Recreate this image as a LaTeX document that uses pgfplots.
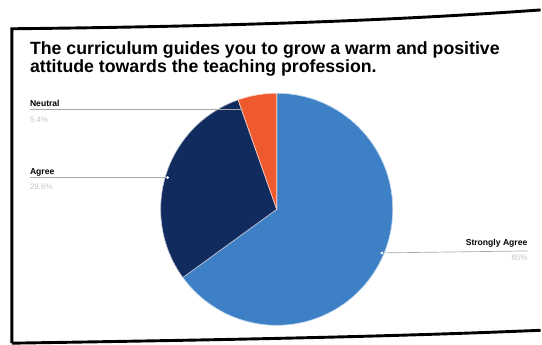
\documentclass[border=0pt]{standalone}
\usepackage{pgfplots}
\pgfplotsset{compat=1.18}
\usepackage{fontspec}
\setmainfont{Liberation Sans}

\definecolor{strongly}{HTML}{3D80C6}
\definecolor{agreec}{HTML}{122B5E}
\definecolor{neutralc}{HTML}{EE5A2E}
\definecolor{leader}{HTML}{A8A8A8}
\definecolor{pct}{HTML}{C4C4C4}

% one wedge: start percent, percent, colour (pie centre 279,211, radius 117 px)
\newcommand\pieslice[3]{%
  \pgfmathsetmacro\aS{90-3.6*#1}%
  \pgfmathsetmacro\aE{90-3.6*(#1+#2)}%
  \pgfmathsetmacro\pX{279+117*cos(\aS)}%
  \pgfmathsetmacro\pY{211-117*sin(\aS)}%
  \edef\temp{\noexpand\fill[#3, draw=white!70!#3, line width=0.5pt]
    (axis cs:279,211) -- (axis cs:\pX,\pY)
    arc[start angle=\aS, end angle=\aE, radius=87.75pt] -- cycle;}%
  \temp}

\begin{document}
\begin{tikzpicture}
\begin{axis}[
  x=0.75pt, y=0.75pt, y dir=reverse,
  xmin=0, xmax=542, ymin=0, ymax=344,
  hide axis, clip=false,
]
% bounding area
\path (axis cs:0,0) rectangle (axis cs:542,344);

% photographed frame
\draw[black, line width=2.2pt]
  (axis cs:12,346) -- (axis cs:12,29) .. controls (axis cs:200,27) and (axis cs:380,22) .. (axis cs:545,10);
\draw[black, line width=2.2pt]
  (axis cs:12,346) .. controls (axis cs:200,343) and (axis cs:380,340) .. (axis cs:545,333);

% title
\node[anchor=base west, inner sep=0pt, font=\bfseries\fontsize{13.4pt}{14pt}\selectfont]
  at (axis cs:30,55) {The curriculum guides you to grow a warm and positive};
\node[anchor=base west, inner sep=0pt, font=\bfseries\fontsize{13.4pt}{14pt}\selectfont]
  at (axis cs:30,73) {attitude towards the teaching profession.};

% pie: Strongly Agree 65.0, Agree 29.6, Neutral 5.4 (percent)
\pieslice{0}{65.0}{strongly}
\pieslice{65.0}{29.6}{agreec}
\pieslice{94.6}{5.4}{neutralc}

% leader lines
\draw[leader, line width=0.5pt] (axis cs:30,110) -- (axis cs:245,110);
\draw[leader, line width=0.5pt] (axis cs:30,179) -- (axis cs:169,179);
\draw[leader, line width=0.5pt] (axis cs:385,255) -- (axis cs:532,253);
\fill[white] (axis cs:169,179) circle (1.1pt);
\fill[white] (axis cs:385,255) circle (1.1pt);

% labels
\node[anchor=base west, inner sep=0pt, font=\bfseries\fontsize{6.5pt}{7pt}\selectfont] at (axis cs:30,107) {Neutral};
\node[anchor=base west, inner sep=0pt, font=\fontsize{6pt}{7pt}\selectfont, text=pct] at (axis cs:30,123) {5.4\%};
\node[anchor=base west, inner sep=0pt, font=\bfseries\fontsize{6.5pt}{7pt}\selectfont] at (axis cs:30,176) {Agree};
\node[anchor=base west, inner sep=0pt, font=\fontsize{6pt}{7pt}\selectfont, text=pct] at (axis cs:30,191) {29.6\%};
\node[anchor=base east, inner sep=0pt, font=\bfseries\fontsize{6.5pt}{7pt}\selectfont] at (axis cs:532,248) {Strongly Agree};
\node[anchor=base east, inner sep=0pt, font=\fontsize{6pt}{7pt}\selectfont, text=pct] at (axis cs:532,263) {65\%};
\end{axis}
\end{tikzpicture}
\end{document}
